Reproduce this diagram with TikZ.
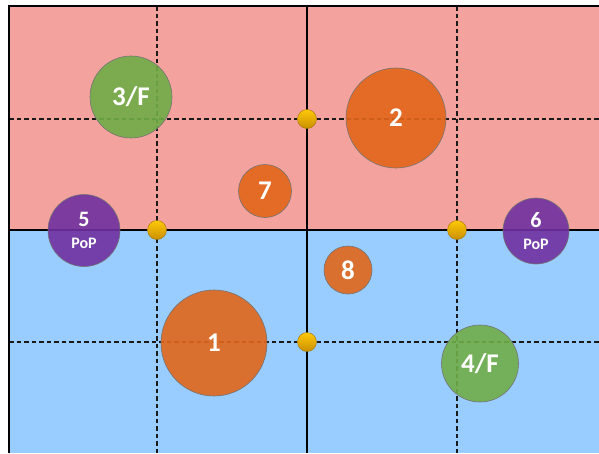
\documentclass[tikz,border=0pt]{standalone}
\usepackage{fontspec}
\setmainfont{Carlito}
\definecolor{redzone}{HTML}{F4A29E}
\definecolor{bluezone}{HTML}{99CCFF}
\definecolor{hubfill}{HTML}{E2661A}
\definecolor{feedfill}{HTML}{70AD47}
\definecolor{popfill}{HTML}{7030A0}
\definecolor{goldtop}{HTML}{FFC90A}
\definecolor{goldbot}{HTML}{C98F00}

\begin{document}
\begin{tikzpicture}[
  x=1pt,y=-1pt,
  site/.style={circle, draw=black!55, line width=0.6pt, inner sep=0pt,
    fill opacity=0.9, text opacity=1, text=white, align=center,
    font=\bfseries\fontsize{27}{27}\selectfont},
  hub/.style={site, fill=hubfill},
  feed/.style={site, fill=feedfill},
  pop/.style={site, fill=popfill, font=\bfseries\fontsize{22}{22}\selectfont},
  joint/.style={circle, draw=goldbot!80!black, line width=0.4pt,
    top color=goldtop, bottom color=goldbot, minimum size=19pt, inner sep=0pt},
  grid/.style={line width=1.8pt, dash pattern=on 4.5pt off 3pt, draw=black!90},
  wall/.style={line width=1.9pt, draw=black}
]
\useasboundingbox[fill=white] (0,0) rectangle (599,453);
\fill[redzone] (9,6) rectangle (599,230);
\fill[bluezone] (9,230) rectangle (599,453);

% grid
\foreach \gx in {157,457}
  \draw[grid] (\gx,6) -- (\gx,453);
\foreach \gy in {119,342}
  \draw[grid] (9,\gy) -- (599,\gy);
\draw[wall] (307,6) -- (307,453);
\draw[wall] (9,230) -- (599,230);
\draw[line width=2.8pt] (9,453) -- (9,6) -- (599,6);

% sites
\node[feed, minimum size=82pt] (s3) at (131,97) {3/F};
\node[hub, minimum size=100pt] (s2) at (396,118) {2};
\node[hub, minimum size=53pt] (s7) at (265,191) {7};
\node[pop, minimum size=72pt] (s5) at (84,230.5)
  {5\\{\fontsize{16}{22}\selectfont PoP}};
\node[pop, minimum size=66pt] (s6) at (536,231)
  {6\\{\fontsize{16}{22}\selectfont PoP}};
\node[hub, minimum size=48pt] (s8) at (348,270) {8};
\node[hub, minimum size=106pt] (s1) at (214,343) {1};
\node[feed, minimum size=77pt] (s4) at (480,363.5) {4/F};

% joints
\node[joint] (jtop) at (307,119) {};
\node[joint] (jleft) at (157,230) {};
\node[joint] (jright) at (457,230) {};
\node[joint] (jbot) at (307,342) {};
\end{tikzpicture}
\end{document}
